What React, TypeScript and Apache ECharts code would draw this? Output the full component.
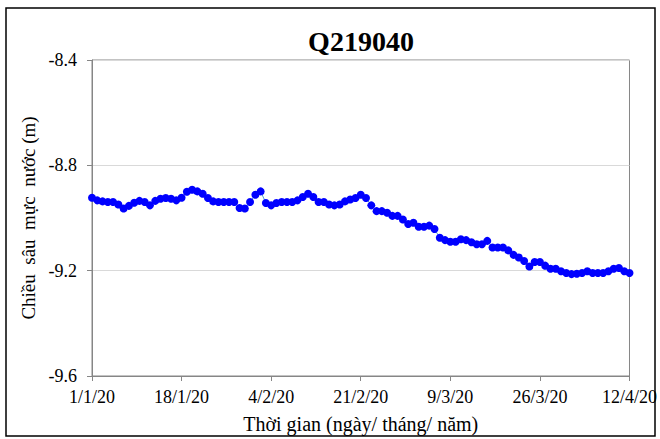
import React, { useEffect, useRef } from "react";
import * as echarts from "echarts";

const TITLE = "Q219040";
const X_NAME = "Thời gian (ngày/ tháng/ năm)";
const Y_NAME = "Chiều  sâu  mực  nước (m)";
const X_TICK_LABELS = ["1/1/20", "18/1/20", "4/2/20", "21/2/20", "9/3/20", "26/3/20", "12/4/20"];
const X_TICK_STEP = 17;
const X_LAST_DAY = 102;
const Y_MIN = -9.6;
const Y_MAX = -8.4;
const Y_STEP = 0.4;

// daily water depth, 1/1/2020 .. 12/4/2020
const DEPTH = [
  -8.923, -8.933, -8.937, -8.939, -8.939, -8.949, -8.964, -8.954, -8.942, -8.935,
  -8.939, -8.952, -8.935, -8.927, -8.924, -8.927, -8.933, -8.923, -8.900, -8.893,
  -8.899, -8.908, -8.924, -8.937, -8.939, -8.939, -8.939, -8.939, -8.962, -8.964,
  -8.939, -8.912, -8.899, -8.943, -8.952, -8.943, -8.939, -8.939, -8.939, -8.933,
  -8.920, -8.908, -8.920, -8.939, -8.939, -8.949, -8.952, -8.949, -8.937, -8.930,
  -8.924, -8.912, -8.924, -8.952, -8.974, -8.974, -8.980, -8.992, -8.992, -9.006,
  -9.023, -9.018, -9.033, -9.033, -9.029, -9.042, -9.075, -9.084, -9.090, -9.090,
  -9.081, -9.084, -9.092, -9.100, -9.100, -9.087, -9.112, -9.112, -9.112, -9.123,
  -9.140, -9.150, -9.163, -9.184, -9.167, -9.167, -9.181, -9.193, -9.193, -9.202,
  -9.209, -9.213, -9.212, -9.209, -9.202, -9.209, -9.209, -9.209, -9.202, -9.193,
  -9.190, -9.202, -9.209,
];

const FONT = "Liberation Serif";

export default function App() {
  const ref = useRef<HTMLDivElement>(null);
  useEffect(() => {
    if (!ref.current) return;
    const chart = echarts.init(ref.current, undefined, { renderer: "svg" });
    const gray = "#868686";
    chart.setOption({
      animation: false,
      backgroundColor: "#ffffff",
      textStyle: { fontFamily: FONT },
      grid: {
        left: 92,
        right: 30,
        top: 60,
        bottom: 60,
        show: true,
        borderColor: gray,
        borderWidth: 1,
        backgroundColor: "transparent",
      },
      graphic: [
        {
          type: "rect",
          shape: { x: 6, y: 8, width: 649, height: 428 },
          style: { fill: "none", stroke: "#000000", lineWidth: 1.5 },
          silent: true,
        },
        {
          type: "text",
          x: 361,
          y: 41,
          style: {
            text: TITLE,
            fontFamily: FONT,
            fontSize: 28,
            fontWeight: "bold",
            fill: "#000000",
            align: "center",
            verticalAlign: "middle",
          },
        },
      ],
      xAxis: {
        type: "value",
        min: 0,
        max: X_LAST_DAY,
        interval: X_TICK_STEP,
        name: X_NAME,
        nameLocation: "middle",
        nameGap: 38,
        nameTextStyle: { fontFamily: FONT, fontSize: 20, color: "#000" },
        axisLine: { show: true, lineStyle: { color: gray, width: 1 } },
        axisTick: { show: true, inside: false, length: 5, lineStyle: { color: gray } },
        axisLabel: {
          fontFamily: FONT,
          fontSize: 18,
          color: "#000",
          margin: 12,
          formatter: (v: number) => X_TICK_LABELS[Math.round(v / X_TICK_STEP)] ?? "",
        },
        splitLine: { show: false },
      },
      yAxis: {
        type: "value",
        min: Y_MIN,
        max: Y_MAX,
        interval: Y_STEP,
        name: Y_NAME,
        nameLocation: "middle",
        nameGap: 44,
        nameTextStyle: { fontFamily: FONT, fontSize: 19, color: "#000" },
        axisLine: { show: true, lineStyle: { color: gray, width: 1 } },
        axisTick: { show: true, inside: false, length: 5, lineStyle: { color: gray } },
        axisLabel: {
          fontFamily: FONT,
          fontSize: 18,
          color: "#000",
          margin: 15,
          formatter: (v: number) => v.toFixed(1),
        },
        splitLine: { show: true, lineStyle: { color: "#d9d9d9", width: 1 } },
      },
      series: [
        {
          type: "line",
          data: DEPTH.map((v, i) => [i, v]),
          symbol: "circle",
          symbolSize: 8,
          showSymbol: true,
          itemStyle: { color: "#0000ff" },
          lineStyle: { color: "#4f9fd0", width: 1 },
          z: 3,
        },
      ],
    });
    return () => chart.dispose();
  }, []);
  return (
    <div
      ref={ref}
      style={{ position: "fixed", left: 0, top: 0, width: 660, height: 439 }}
    />
  );
}
